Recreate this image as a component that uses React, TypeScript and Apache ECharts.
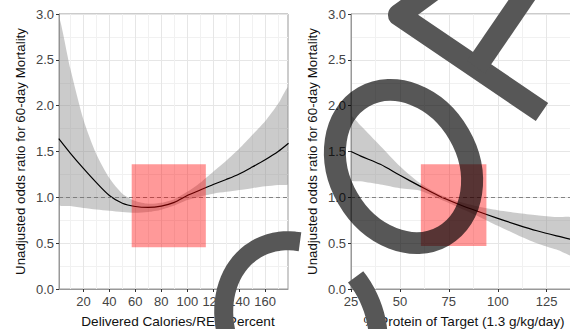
import React, { useEffect, useRef } from "react";
import * as echarts from "echarts";

// Left panel: Delivered Calories/REE Percent
const calX = [1, 10, 20, 30, 40, 50, 60, 70, 80, 90, 100, 110, 120, 130, 140, 150, 160, 170, 178];
const calFit = [1.64, 1.48, 1.315, 1.16, 1.02, 0.935, 0.9, 0.89, 0.905, 0.945, 1.02, 1.08, 1.14, 1.195, 1.255, 1.33, 1.41, 1.5, 1.59];
const calUpper = [2.95, 2.4, 1.85, 1.47, 1.21, 1.04, 0.96, 0.93, 0.94, 0.98, 1.06, 1.16, 1.28, 1.4, 1.53, 1.68, 1.83, 2.02, 2.2];
const calLower = [0.925, 0.905, 0.885, 0.868, 0.853, 0.84, 0.832, 0.84, 0.865, 0.91, 0.97, 1.01, 1.04, 1.06, 1.08, 1.1, 1.12, 1.135, 1.15];
const calTicks = [20, 40, 60, 80, 100, 120, 140, 160];
const calRect = [57.2, 114.3, 0.455, 1.36];

// Right panel: % Protein of Target
const proX = [25, 30, 40, 50, 60, 70, 80, 90, 100, 110, 120, 130, 140];
const proFit = [1.5, 1.45, 1.36, 1.24, 1.125, 1.015, 0.925, 0.845, 0.77, 0.7, 0.635, 0.58, 0.53];
const proUpper = [1.88, 1.78, 1.56, 1.34, 1.16, 1.035, 0.955, 0.9, 0.86, 0.83, 0.805, 0.785, 0.765];
const proLower = [1.19, 1.175, 1.14, 1.1, 1.075, 0.985, 0.89, 0.795, 0.69, 0.59, 0.5, 0.43, 0.36];
const proTicks = [25, 50, 75, 100, 125];
const proRect = [60.7, 94.2, 0.47, 1.36];

const refLine = 1;
const yTitle = "Unadjusted odds ratio for 60-day Mortality";
const xTitles = ["Delivered Calories/REE Percent", "% Protein of Target (1.3 g/kg/day)"];

const FONT = "'Liberation Sans', Arial, Helvetica, sans-serif";
const OVER = "#575757";

function yAxisFor(i: number) {
  return {
    type: "value",
    gridIndex: i,
    min: 0,
    max: 3,
    interval: 0.5,
    axisLine: { show: true, lineStyle: { color: "#999", width: 1 } },
    axisTick: { show: true, length: 3, lineStyle: { color: "#333" } },
    axisLabel: {
      margin: 5,
      fontSize: 13,
      color: "#444",
      fontFamily: FONT,
      formatter: (v: number) => v.toFixed(1),
    },
    splitLine: { show: true, lineStyle: { color: "#e6e6e6", width: 1 } },
    minorTick: { show: false, splitNumber: 2 },
    minorSplitLine: { show: true, lineStyle: { color: "#f1f1f1", width: 1 } },
  };
}

function bandSeries(i: number, xs: number[], lo: number[], up: number[]) {
  return {
    type: "custom",
    xAxisIndex: i,
    yAxisIndex: i,
    z: 1,
    silent: true,
    clip: true,
    data: xs.map((x, k) => [x, lo[k], up[k]]),
    encode: { x: 0, y: [1, 2] },
    renderItem: (params: any, api: any) => {
      if (params.dataIndex !== 0) return null;
      const top = xs.map((x, k) => api.coord([x, up[k]]));
      const bot = xs.map((x, k) => api.coord([x, lo[k]])).reverse();
      return {
        type: "group",
        children: [
          {
            type: "polygon",
            shape: { points: top.concat(bot), smooth: 0.25 },
            style: { fill: "rgba(140,140,140,0.45)", stroke: "none" },
          },
        ],
      };
    },
  };
}

function fitSeries(i: number, xs: number[], fit: number[]) {
  return {
    type: "line",
    xAxisIndex: i,
    yAxisIndex: i,
    symbol: "none",
    smooth: 0.3,
    silent: true,
    data: xs.map((x, k) => [x, fit[k]]),
    lineStyle: { color: "#000", width: 1.2 },
    z: 3,
    markLine: {
      silent: true,
      symbol: ["none", "none"],
      label: { show: false },
      lineStyle: { color: "#777", type: [4, 3], width: 0.9 },
      data: [{ yAxis: refLine }],
    },
  };
}

function rectSeries(i: number, r: number[]) {
  return {
    type: "custom",
    xAxisIndex: i,
    yAxisIndex: i,
    z: 5,
    silent: true,
    data: [r],
    encode: { x: [0, 1], y: [2, 3] },
    renderItem: (_p: any, api: any) => {
      const a = api.coord([api.value(0), api.value(3)]);
      const b = api.coord([api.value(1), api.value(2)]);
      return {
        type: "rect",
        shape: { x: a[0], y: a[1], width: b[0] - a[0], height: b[1] - a[1] },
        style: { fill: "rgba(255,0,0,0.4)" },
      };
    },
  };
}

function cPoints() {
  const cx = 301, cy = 326, a = 73, b = 89;
  const r = [Math.cos(Math.PI / 6), -Math.sin(Math.PI / 6)];
  const d = [Math.sin(Math.PI / 6), Math.cos(Math.PI / 6)];
  const pts: number[][] = [];
  const t0 = -55.6, t1 = -369.9;
  const n = 80;
  for (let k = 0; k <= n; k++) {
    const t = ((t0 + ((t1 - t0) * k) / n) * Math.PI) / 180;
    const u = a * Math.cos(t), v = b * Math.sin(t);
    pts.push([cx + u * r[0] + v * d[0], cy + u * r[1] + v * d[1]]);
  }
  return pts;
}

function textEl(text: string, x: number, y: number, size: number, rot: number, color: string) {
  return {
    type: "text",
    x,
    y,
    rotation: rot,
    z: 50,
    silent: true,
    style: {
      text,
      fill: color,
      fontSize: size,
      fontFamily: FONT,
      align: "center",
      verticalAlign: "middle",
      textAlign: "center",
      textVerticalAlign: "middle",
    },
  };
}

export default function App() {
  const ref = useRef<HTMLDivElement>(null);
  useEffect(() => {
    if (!ref.current) return;
    const chart = echarts.init(ref.current, undefined, { renderer: "svg" });
    const option: any = {
      animation: false,
      backgroundColor: "#ffffff",
      grid: [
        { left: 59, top: 14, width: 229, height: 275, show: true, borderColor: "#999", borderWidth: 1, backgroundColor: "transparent", outerBoundsMode: "none", containLabel: false },
        { left: 351, top: 14, width: 244.6, height: 275, show: true, borderColor: "#999", borderWidth: 1, backgroundColor: "transparent", outerBoundsMode: "none", containLabel: false },
      ],
      xAxis: [
        {
          type: "value",
          gridIndex: 0,
          min: 1.2,
          max: 177.6,
          splitNumber: 9,
          axisLine: { show: true, lineStyle: { color: "#999" } },
          axisTick: { show: true, length: 3, lineStyle: { color: "#333" }, customValues: calTicks },
          axisLabel: { margin: 6, fontSize: 13, color: "#444", fontFamily: FONT, customValues: calTicks },
          splitLine: { show: true, lineStyle: { color: "#e6e6e6", width: 1 } },
          minorTick: { show: false, splitNumber: 2 },
          minorSplitLine: { show: true, lineStyle: { color: "#f1f1f1", width: 1 } },
        },
        {
          type: "value",
          gridIndex: 1,
          min: 25,
          max: 150,
          interval: 25,
          axisLine: { show: true, lineStyle: { color: "#999" } },
          axisTick: { show: true, length: 3, lineStyle: { color: "#333" }, customValues: proTicks },
          axisLabel: { margin: 6, fontSize: 13, color: "#444", fontFamily: FONT, customValues: proTicks },
          splitLine: { show: true, lineStyle: { color: "#e6e6e6", width: 1 } },
          minorTick: { show: false, splitNumber: 2 },
          minorSplitLine: { show: true, lineStyle: { color: "#f1f1f1", width: 1 } },
        },
      ],
      yAxis: [yAxisFor(0), yAxisFor(1)],
      series: [
        bandSeries(0, calX, calLower, calUpper),
        fitSeries(0, calX, calFit),
        rectSeries(0, calRect),
        bandSeries(1, proX, proLower, proUpper),
        fitSeries(1, proX, proFit),
        rectSeries(1, proRect),
      ],
      graphic: {
        elements: [
          textEl(yTitle, 20, 151.5, 13.3, Math.PI / 2, "#111"),
          textEl(yTitle, 312, 151.5, 13.3, Math.PI / 2, "#111"),
          textEl(xTitles[0], 178, 321.5, 13.6, 0, "#111"),
          textEl(xTitles[1], 464, 321.5, 13.5, 0, "#111"),
          {
            type: "ellipse",
            x: 403.5,
            y: 166.5,
            rotation: Math.PI / 6,
            z: 100,
            silent: true,
            shape: { cx: 0, cy: 0, rx: 64.2, ry: 80.2 },
            style: { fill: "none", stroke: "rgba(0,0,0,0.66)", lineWidth: 22 },
          },
          {
            type: "polyline",
            z: 100,
            silent: true,
            shape: { points: cPoints() },
            style: { fill: "none", stroke: OVER, lineWidth: 19, lineCap: "butt", lineJoin: "round" },
          },
          {
            type: "polyline",
            z: 100,
            silent: true,
            shape: { points: [[436, -12], [399, 15], [542, 112]] },
            style: { fill: "none", stroke: OVER, lineWidth: 22, lineCap: "butt", lineJoin: "round" },
          },
          {
            type: "polyline",
            z: 100,
            silent: true,
            shape: { points: [[476, 67], [530, -12]] },
            style: { fill: "none", stroke: OVER, lineWidth: 22, lineCap: "butt" },
          },
        ],
      },
    };
    chart.setOption(option);
    return () => chart.dispose();
  }, []);
  return (
    <div
      ref={ref}
      style={{ position: "fixed", left: 0, top: 0, width: 570, height: 329, background: "#fff" }}
    />
  );
}
